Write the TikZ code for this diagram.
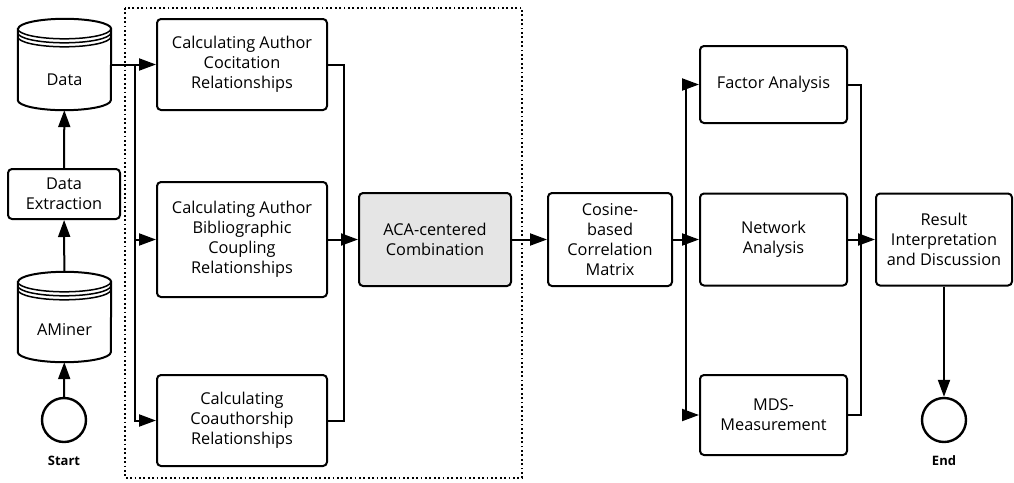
\documentclass[tikz,border=0pt]{standalone}
\usepackage{fontspec}
\setmainfont{Open Sans}
\usetikzlibrary{arrows.meta,calc}
\tikzset{>={Triangle[length=17pt,width=12pt]}}
\tikzset{
  proc/.style={draw,line width=2pt,rounded corners=4pt,align=center,inner sep=2pt,
    font=\fontsize{16.3}{20}\selectfont},
  drumbody/.style={inner sep=0pt,minimum width=93,minimum height=#1},
  drumtext/.style={font=\fontsize{16.3}{20}\selectfont},
  terminal/.style={draw,circle,line width=2.4pt,minimum size=44,inner sep=0pt},
  termlabel/.style={font=\fontsize{13}{15}\selectfont\bfseries},
  flow/.style={line width=2pt},
  groupline/.style={line width=1.8pt,dash pattern=on 1.8pt off 2.6pt}
}
% database drum drawn round a node
\newcommand{\drum}[1]{%
  \draw[line width=2pt,fill=white] ($(#1.north west)+(0,-10)$) -- ($(#1.south west)+(0,10)$)
    arc[start angle=180,end angle=360,x radius=46.5pt,y radius=10pt]
    -- ($(#1.north east)+(0,-10)$)
    arc[start angle=0,end angle=180,x radius=46.5pt,y radius=10pt] -- cycle;
  \foreach \off in {10,14,18}
    \draw[line width=1.5pt] ($(#1.north west)+(0,-\off)$)
      arc[start angle=180,end angle=360,x radius=46.5pt,y radius=10pt];
}

\begin{document}
\begin{tikzpicture}[x=1pt,y=1pt]
  \useasboundingbox (0,0) rectangle (1014,-482);

  % sources
  \node[drumbody=91] (data) at (64.5,-64.5) {};
  \drum{data}
  \node[drumtext] at ([yshift=-15pt]data.center) {Data};
  \node[proc,minimum width=112,minimum height=50] (extract) at (64,-194) {Data\\Extraction};
  \node[drumbody=90] (aminer) at (64.5,-317) {};
  \drum{aminer}
  \node[drumtext] at ([yshift=-13pt]aminer.center) {AMiner};
  \node[terminal] (start) at (64,-420) {};
  \node[termlabel] at (64,-461) {Start};

  % group of relationship calculations
  \draw[groupline] (125,-8) rectangle (522,-478);
  \node[proc,minimum width=170,minimum height=91] (acite) at (242,-64.5) {Calculating Author\\Cocitation\\Relationships};
  \node[proc,minimum width=170,minimum height=115] (acoup) at (242,-239.5) {Calculating Author\\Bibliographic\\Coupling\\Relationships};
  \node[proc,minimum width=170,minimum height=91] (coauth) at (242,-420.5) {Calculating\\Coauthorship\\Relationships};
  \node[proc,fill=black!10,minimum width=152,minimum height=93] (aca) at (435,-239.5) {ACA-centered\\Combination};

  % analysis
  \node[proc,minimum width=124,minimum height=93] (cosine) at (610,-239.5) {Cosine-\\based\\Correlation\\Matrix};
  \node[proc,minimum width=147,minimum height=77] (factor) at (773.5,-84.5) {Factor Analysis};
  \node[proc,minimum width=147,minimum height=92] (network) at (773.5,-239.5) {Network\\Analysis};
  \node[proc,minimum width=147,minimum height=80] (mds) at (773.5,-415) {MDS-\\Measurement};
  \node[proc,minimum width=136,minimum height=92] (result) at (944,-239.5) {Result\\Interpretation\\and Discussion};
  \node[terminal] (end) at (944,-420) {};
  \node[termlabel] at (944,-461) {End};

  \coordinate (fork) at (135,-64.5);
  \coordinate (join) at (344,-239.5);
  \coordinate (branch) at (686,-239.5);
  \coordinate (merge) at (861,-239.5);

  % connectors
  \draw[flow,->] (start) -- (aminer);
  \draw[flow,->] (aminer) -- (extract);
  \draw[flow,->] (extract) -- (data);
  \draw[flow,->] (data.east) -- (acite.west);
  \draw[flow,->] (fork) |- (acoup.west);
  \draw[flow,->] (fork) |- (coauth.west);
  \draw[flow] (acite.east) -| (join);
  \draw[flow] (coauth.east) -| (join);
  \draw[flow,->] (acoup.east) -- (aca.west);
  \draw[flow,->] (aca.east) -- (cosine.west);
  \draw[flow,->] (cosine.east) -- (network.west);
  \draw[flow,->] (branch) |- (factor.west);
  \draw[flow,->] (branch) |- (mds.west);
  \draw[flow] (factor.east) -| (merge);
  \draw[flow] (mds.east) -| (merge);
  \draw[flow,->] (network.east) -- (result.west);
  \draw[flow,->] (result.south) -- (end.north);
\end{tikzpicture}
\end{document}
